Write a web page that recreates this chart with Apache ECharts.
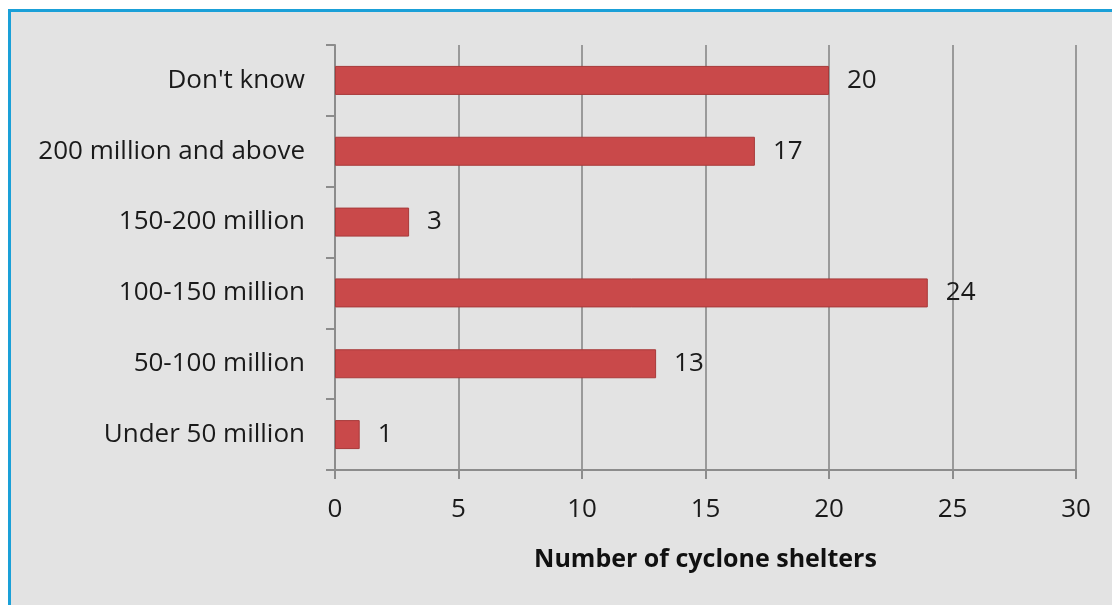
<!DOCTYPE html>
<html><head><meta charset="utf-8">
<script src="https://cdn.jsdelivr.net/npm/echarts@6/dist/echarts.min.js"></script>
<style>
html,body{margin:0;padding:0;background:#fff;width:1112px;height:605px;overflow:hidden;}
#frame{position:absolute;left:8px;top:9px;width:1120px;height:610px;border-top:3px solid #1aa0d8;border-left:3px solid #1aa0d8;background:#e3e3e3;}
#chart{position:absolute;left:0;top:0;width:1112px;height:605px;}
</style></head>
<body><div id="frame"></div><div id="chart"></div>
<script>
const categories = ["Under 50 million","50-100 million","100-150 million","150-200 million","200 million and above","Don't know"];
const values = [1, 13, 24, 3, 17, 20];
const xTicks = [0, 5, 10, 15, 20, 25, 30];
const axisTitle = "Number of cyclone shelters";

const chart = echarts.init(document.getElementById('chart'), null, {renderer:'canvas'});
const font = "'Open Sans', 'Liberation Sans', sans-serif";
chart.setOption({
  backgroundColor: 'transparent',
  animation: false,
  grid: {left: 335, right: 36, top: 45, bottom: 135, containLabel: false},
  xAxis: {
    type: 'value', min: xTicks[0], max: xTicks[xTicks.length-1], interval: 5,
    axisLine: {show: true, lineStyle: {color: '#8c8c8c', width: 2}},
    axisTick: {show: true, length: 9, lineStyle: {color: '#8c8c8c', width: 2}},
    axisLabel: {color: '#1a1a1a', fontSize: 26, fontFamily: font, margin: 27},
    splitLine: {show: true, lineStyle: {color: '#9a9a9a', width: 2}},
    name: axisTitle, nameLocation: 'middle', nameGap: 77,
    nameTextStyle: {color: '#111', fontSize: 25, fontWeight: 'bold', fontFamily: font}
  },
  yAxis: {
    type: 'category', data: categories,
    axisLine: {show: true, lineStyle: {color: '#8c8c8c', width: 2}},
    axisTick: {show: true, length: 9, lineStyle: {color: '#8c8c8c', width: 2}},
    axisLabel: {color: '#1a1a1a', fontSize: 26, fontFamily: font, margin: 30},
    splitLine: {show: false}
  },
  series: [{
    type: 'bar', data: values, barWidth: 29,
    itemStyle: {color: '#c9494a', borderColor: '#a83a3a', borderWidth: 1},
    label: {show: true, position: 'right', distance: 18, color: '#1a1a1a', fontSize: 26, fontFamily: font}
  }]
});
</script></body></html>
